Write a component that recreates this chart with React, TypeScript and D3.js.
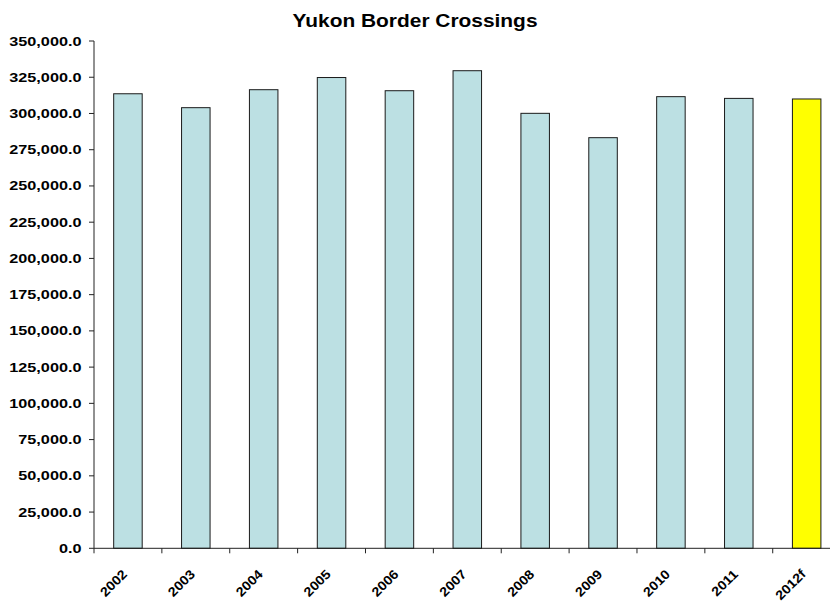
import React from "react";
import * as d3 from "d3";

// Yukon border crossings by year (2012 is a forecast)
const years = ["2002", "2003", "2004", "2005", "2006", "2007", "2008", "2009", "2010", "2011", "2012f"];
const crossings = [313600, 304000, 316400, 324800, 315700, 329500, 300100, 283300, 311600, 310400, 310000];
const forecastYear = "2012f";
const yTicks = d3.range(0, 350001, 25000);

const W = 830;
const H = 603;
const left = 94;
const top = 41;
const bottom = 548.3;
const right = 840.6;

const FONT = "'Liberation Sans', Arial, sans-serif";

export default function App() {
  const x = d3.scaleBand<string>().domain(years).range([left, right]).paddingInner(0.58).paddingOuter(0.29);
  const y = d3.scaleLinear().domain([0, 350000]).range([bottom, top]);
  const step = x.step();
  const fmt = d3.format(",.1f");
  const boundaries = d3.range(0, years.length + 1).map((i) => left + i * step);

  return (
    <svg width={W} height={H} style={{ position: "absolute", left: 0, top: 0, background: "#fff" }}>
      <text
        transform={`translate(415,27) scale(1.1,1)`}
        textAnchor="middle"
        fontFamily={FONT}
        fontWeight="bold"
        fontSize={19}
        fill="#000"
      >
        Yukon Border Crossings
      </text>

      {years.map((yr, i) => (
        <rect
          key={yr}
          x={x(yr)!}
          y={y(crossings[i])}
          width={x.bandwidth()}
          height={bottom - y(crossings[i])}
          fill={yr === forecastYear ? "#FFFF00" : "#BCE0E3"}
          stroke="#1a1a1a"
          strokeWidth={1}
        />
      ))}

      {/* value axis */}
      <line x1={left} x2={left} y1={top} y2={bottom} stroke="#222" strokeWidth={1} />
      {yTicks.map((t) => (
        <g key={t}>
          <line x1={left - 5} x2={left} y1={y(t)} y2={y(t)} stroke="#222" strokeWidth={1} />
          <text
            transform={`translate(81.5,${y(t) + 4.5}) scale(1.3,1)`}
            textAnchor="end"
            fontFamily={FONT}
            fontWeight="bold"
            fontSize={12.5}
            fill="#000"
          >
            {fmt(t)}
          </text>
        </g>
      ))}

      {/* category axis */}
      <line x1={left} x2={right} y1={bottom} y2={bottom} stroke="#222" strokeWidth={1} />
      {boundaries.map((bx, i) => (
        <line key={i} x1={bx} x2={bx} y1={bottom} y2={bottom + 5} stroke="#222" strokeWidth={1} />
      ))}
      {years.map((yr) => {
        const cx = x(yr)! + x.bandwidth() / 2;
        return (
          <text
            key={yr}
            transform={`translate(${cx},575) rotate(-45) scale(1.1,1)`}
            textAnchor="end"
            fontFamily={FONT}
            fontWeight="bold"
            fontSize={13}
            fill="#000"
          >
            {yr}
          </text>
        );
      })}
    </svg>
  );
}
